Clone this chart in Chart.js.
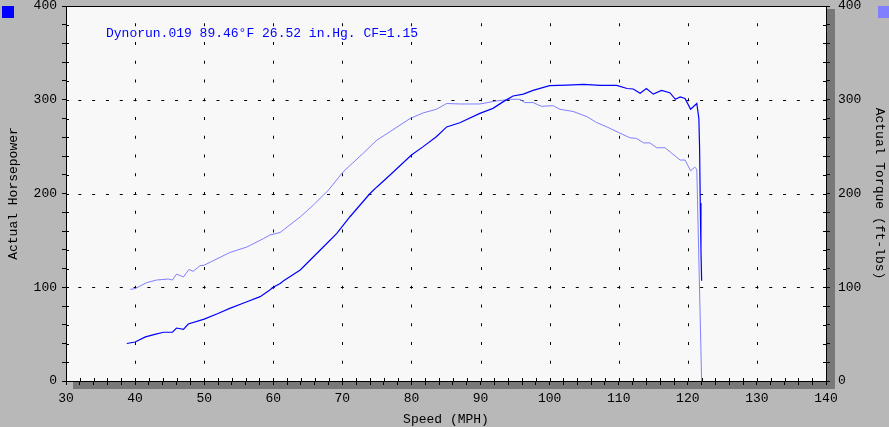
<!DOCTYPE html>
<html>
<head>
<meta charset="utf-8">
<script src="https://cdn.jsdelivr.net/npm/chart.js@4/dist/chart.umd.min.js"></script>
<style>
  body { margin: 0; background: #b8b8b8; }
  canvas { display: block; }
</style>
</head>
<body>
<canvas id="dynoChart" width="889" height="427"></canvas>
<script>
// horsepower curve (speed in MPH, HP)
const hpSpeed = [38.8, 40, 41.5, 43, 44.1, 45.4, 46, 47, 47.7, 50, 52, 53.7, 56, 58.1, 59.5, 60, 61, 61.5,
    63.9, 66.8, 69.2, 71.1, 74, 75, 76.9, 80, 81.7, 83.6, 85.1, 87, 89.9, 91.8, 93.3, 94.7, 96.2, 97.6,
    100, 102.5, 104.9, 107.3, 109.7, 111.2, 112.1, 113.1, 114, 115, 116.2, 117.4, 118.2, 118.9, 119.6,
    120.4, 121.3, 121.6, 121.7, 121.8, 121.9, 122];
const hpValues = [40, 41.6, 47, 50, 52, 52, 56.5, 55, 60.8, 66, 72, 77.5, 84, 90, 97, 100, 104, 107,
    118.4, 139.7, 157.5, 175.2, 200, 207, 219.7, 241, 250, 260.6, 271, 275.5, 285.5, 290.8, 298, 304, 306, 310,
    315, 315.7, 316.5, 315.4, 315.4, 312, 311.5, 307, 312, 306, 310, 307.5, 300.5, 303, 301.4,
    289.8, 296, 280, 250, 190, 140, 107];

// torque curve (speed in MPH, ft-lbs)
const tqSpeed = [39.3, 40, 41.7, 43.1, 44.8, 45.4, 46, 47, 47.8, 48.4, 49.4, 50, 51.1, 53.7, 56.2, 58.6, 59.5, 61,
    63.9, 65.8, 68, 70.1, 73, 75, 76.9, 79.8, 81.7, 83.6, 85.1, 87, 89.9, 92.3, 94.3, 95.7, 96.4, 97.6,
    98.8, 100.5, 101.5, 103.4, 105.4, 106.8, 108.3, 110, 111.6, 112.6, 113.6, 114.5, 115.5, 116.7, 117.7,
    118.9, 119.6, 120.4, 121, 121.3, 122];
const tqValues = [97.8, 98.5, 105, 107.7, 108.8, 107.7, 114, 111, 119, 117, 123, 123.5, 127.6, 137, 143, 152, 155.7, 158.5,
    175, 187.7, 203.7, 223, 242.8, 257, 266, 280, 286, 289.8, 296, 295.5, 295.5, 298.7, 300.5, 300.5, 297, 297,
    293, 293.7, 289.8, 287.5, 282, 275.7, 271, 265, 259.5, 258.7, 254, 254, 248.8, 248.8, 242.8,
    235.7, 235.7, 224.3, 228, 226, 0];

const runInfo = "Dynorun.019 89.46\u00b0F 26.52 in.Hg. CF=1.15";
const hpColor = "#0000ff";
const tqColor = "#8080ff";
const monoFont = "'Liberation Mono', 'DejaVu Sans Mono', monospace";

const dynoLook = {
    id: "dynoLook",
    beforeDraw(chart) {
        const ctx = chart.ctx;
        const a = chart.chartArea;
        ctx.save();
        ctx.fillStyle = "#b8b8b8";
        ctx.fillRect(0, 0, chart.width, chart.height);
        ctx.fillStyle = "#787878";
        ctx.fillRect(a.left + 7, a.top + 3, a.right - a.left + 2, a.bottom - a.top + 5);
        ctx.fillStyle = "#f8f8f8";
        ctx.fillRect(a.left, a.top, a.right - a.left, a.bottom - a.top);
        ctx.restore();
    },
    beforeDatasetsDraw(chart) {
        const ctx = chart.ctx;
        const a = chart.chartArea;
        const xs = chart.scales.x;
        const ys = chart.scales.y;
        ctx.save();
        ctx.strokeStyle = "#000";
        ctx.lineWidth = 1;
        ctx.beginPath();
        // dotted grid: short dashes at minor tick positions along the major lines
        xs.ticks.forEach(tx => {
            if (tx.value % 10 !== 0 || tx.value === 30 || tx.value === 140) return;
            const px = Math.round(xs.getPixelForValue(tx.value)) + 0.5;
            ys.ticks.forEach(ty => {
                if (ty.value === 0 || ty.value === 400) return;
                const py = ys.getPixelForValue(ty.value);
                ctx.moveTo(px, py - 1.5);
                ctx.lineTo(px, py + 1.5);
            });
        });
        ys.ticks.forEach(ty => {
            if (ty.value % 100 !== 0 || ty.value === 0 || ty.value === 400) return;
            const py = Math.round(ys.getPixelForValue(ty.value)) + 0.5;
            xs.ticks.forEach(tx => {
                if (tx.value === 30 || tx.value === 140) return;
                const px = xs.getPixelForValue(tx.value);
                ctx.moveTo(px - 1.5, py);
                ctx.lineTo(px + 1.5, py);
            });
        });
        // inner part of the tick marks
        xs.ticks.forEach(tx => {
            const px = Math.round(xs.getPixelForValue(tx.value)) + 0.5;
            ctx.moveTo(px, a.bottom);
            ctx.lineTo(px, a.bottom - 3);
        });
        ys.ticks.forEach(ty => {
            const py = Math.round(ys.getPixelForValue(ty.value)) + 0.5;
            ctx.moveTo(a.left, py);
            ctx.lineTo(a.left + 3, py);
            ctx.moveTo(a.right, py);
            ctx.lineTo(a.right - 3, py);
        });
        ctx.stroke();
        ctx.restore();
    },
    afterDraw(chart) {
        const ctx = chart.ctx;
        const a = chart.chartArea;
        ctx.save();
        ctx.strokeStyle = "#000";
        ctx.lineWidth = 1;
        ctx.strokeRect(Math.round(a.left) + 0.5, Math.round(a.top) + 0.5,
            Math.round(a.right - a.left), Math.round(a.bottom - a.top));
        ctx.fillStyle = hpColor;
        ctx.fillRect(2, 6, 12, 12);
        ctx.fillStyle = tqColor;
        ctx.fillRect(878, 6, 11, 12);
        ctx.fillStyle = "#0000ff";
        ctx.font = "13px " + monoFont;
        ctx.textBaseline = "middle";
        ctx.fillText(runInfo, a.left + 40, a.top + 28);
        ctx.restore();
    }
};

// fixed axis sizes so the plot frame sits where the original one is
function fixBox(size, horizontal) {
    return s => {
        if (horizontal) {
            s.height = size;
            s.paddingLeft = 0;
            s.paddingRight = 0;
        } else {
            s.width = size;
            s.paddingTop = 0;
            s.paddingBottom = 0;
        }
    };
}

const ctx = document.getElementById("dynoChart").getContext("2d");
new Chart(ctx, {
    type: "line",
    data: {
        datasets: [{
            label: "Actual Horsepower",
            data: hpSpeed.map((s, i) => ({ x: s, y: hpValues[i] })),
            borderColor: hpColor,
            borderWidth: 1.2,
            pointRadius: 0,
            tension: 0,
            yAxisID: "y"
        }, {
            label: "Actual Torque (ft-lbs)",
            data: tqSpeed.map((s, i) => ({ x: s, y: tqValues[i] })),
            borderColor: tqColor,
            borderWidth: 1,
            pointRadius: 0,
            tension: 0,
            yAxisID: "y1"
        }]
    },
    options: {
        responsive: false,
        animation: false,
        devicePixelRatio: 1,
        layout: { padding: { top: 6, left: 0, right: 0, bottom: 0 } },
        plugins: { legend: { display: false }, tooltip: { enabled: false } },
        scales: {
            x: {
                type: "linear",
                min: 30,
                max: 140,
                afterFit: fixBox(46, true),
                ticks: {
                    stepSize: 2,
                    maxTicksLimit: 100,
                    autoSkip: false,
                    maxRotation: 0,
                    padding: 6,
                    color: "#000",
                    font: { family: monoFont, size: 13 },
                    callback: v => (v % 10 === 0 ? v : "")
                },
                grid: { drawOnChartArea: false, tickLength: 4, tickColor: "#000" },
                border: { display: false },
                title: {
                    display: true,
                    text: "Speed (MPH)",
                    color: "#000",
                    padding: 0,
                    font: { family: monoFont, size: 13 }
                }
            },
            y: {
                position: "left",
                min: 0,
                max: 400,
                afterFit: fixBox(66, false),
                ticks: {
                    stepSize: 20,
                    maxTicksLimit: 100,
                    autoSkip: false,
                    padding: 5,
                    color: "#000",
                    font: { family: monoFont, size: 13 },
                    callback: v => (v % 100 === 0 ? v : "")
                },
                grid: { drawOnChartArea: false, tickLength: 4, tickColor: "#000" },
                border: { display: false },
                title: {
                    display: true,
                    text: "Actual Horsepower",
                    color: "#000",
                    padding: { top: 6, bottom: 0 },
                    font: { family: monoFont, size: 13 }
                }
            },
            y1: {
                position: "right",
                min: 0,
                max: 400,
                afterFit: fixBox(63, false),
                ticks: {
                    stepSize: 20,
                    maxTicksLimit: 100,
                    autoSkip: false,
                    padding: 8,
                    color: "#000",
                    font: { family: monoFont, size: 13 },
                    callback: v => (v % 100 === 0 ? v : "")
                },
                grid: { drawOnChartArea: false, tickLength: 4, tickColor: "#000" },
                border: { display: false },
                title: {
                    display: true,
                    text: "Actual Torque (ft-lbs)",
                    color: "#000",
                    padding: { top: 2, bottom: 0 },
                    font: { family: monoFont, size: 13 }
                }
            }
        }
    },
    plugins: [dynoLook]
});
</script>
</body>
</html>
